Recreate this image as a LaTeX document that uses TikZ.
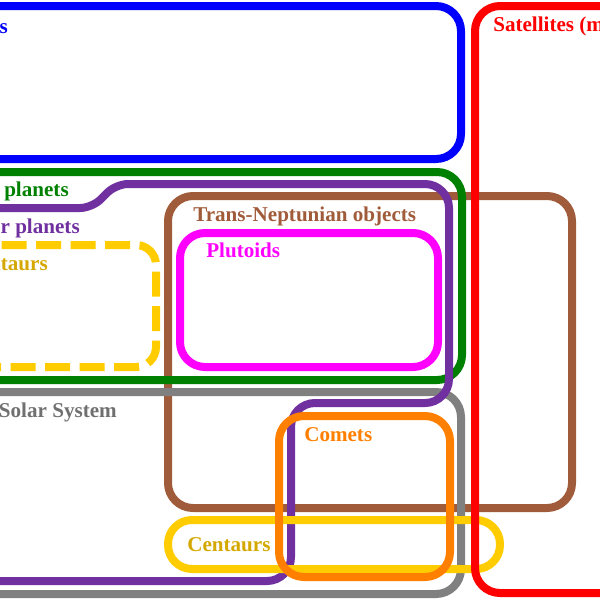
\documentclass[tikz,border=0pt]{standalone}
\usepackage{fontspec}
\setmainfont{Liberation Serif}
\definecolor{minorpurple}{RGB}{112,48,160}
\definecolor{tnobrown}{RGB}{160,92,58}
\definecolor{plutomagenta}{RGB}{255,0,255}
\definecolor{centgold}{RGB}{255,204,0}
\definecolor{centtext}{RGB}{212,168,0}
\definecolor{cometorange}{RGB}{255,128,0}
\definecolor{dwarfgreen}{RGB}{0,128,0}
\definecolor{smallgray}{RGB}{128,128,128}
\definecolor{smalltext}{RGB}{112,112,112}
\begin{document}
\begin{tikzpicture}[x=0.025cm,y=-0.025cm,
  set/.style={line width=0.2cm,rounded corners=0.625cm},
  lbl/.style={inner sep=0pt,anchor=base west,font=\fontsize{15}{18}\selectfont\bfseries}]
\path[use as bounding box,clip] (0,0) rectangle (600,600);
% the sets, back to front
\draw[set,blue] (-40,6) rectangle (461,159);
\draw[set,tnobrown] (168,196) rectangle (572,508);
\draw[set,plutomagenta] (180,233) rectangle (438,367);
\draw[set,centgold,rounded corners=0.5cm,dash pattern=on 0.625cm off 0.2375cm]
  (-33,245) -- (156,245) -- (156,367) -- (-40,367);
\draw[set,dwarfgreen] (-40,172) rectangle (462,380);
\draw[set,smallgray] (-40,392) rectangle (461,594);
\draw[set,minorpurple] (-40,208) [rounded corners=0.3cm] -- (92,208) -- (116,184) -- (200,184)
  [rounded corners=0.6cm] -- (449,184) -- (449,403) -- (291,403) -- (291,581) -- (-40,581);
\draw[set,centgold,rounded corners=0.6cm] (168,520) rectangle (500,569);
\draw[set,cometorange] (279,416) rectangle (450,577);
\draw[set,red] (475,6) rectangle (640,593);
% labels
\node[lbl,blue,anchor=base east] (planets) at (8,33) {Planets};
\node[lbl,red] (satellites) at (493,31) {Satellites (moons)};
\node[lbl,dwarfgreen,anchor=base east] (dwarf) at (69,196) {Dwarf planets};
\node[lbl,minorpurple,anchor=base east] (minor) at (80,233) {Minor planets};
\node[lbl,centtext,anchor=base east] (centdash) at (48,270) {Centaurs};
\node[lbl,tnobrown] (tno) at (193,221) {Trans-Neptunian objects};
\node[lbl,plutomagenta] (plutoids) at (206,257) {Plutoids};
\node[lbl,smalltext,anchor=base east] (sssb) at (117,417) {Small Solar System};
\node[lbl,smalltext] (bodies) at (sssb.base west) [yshift=-0.6cm] {bodies};
\node[lbl,cometorange] (comets) at (304,441) {Comets};
\node[lbl,centtext] (centaurs) at (187,551) {Centaurs};
\end{tikzpicture}
\end{document}
